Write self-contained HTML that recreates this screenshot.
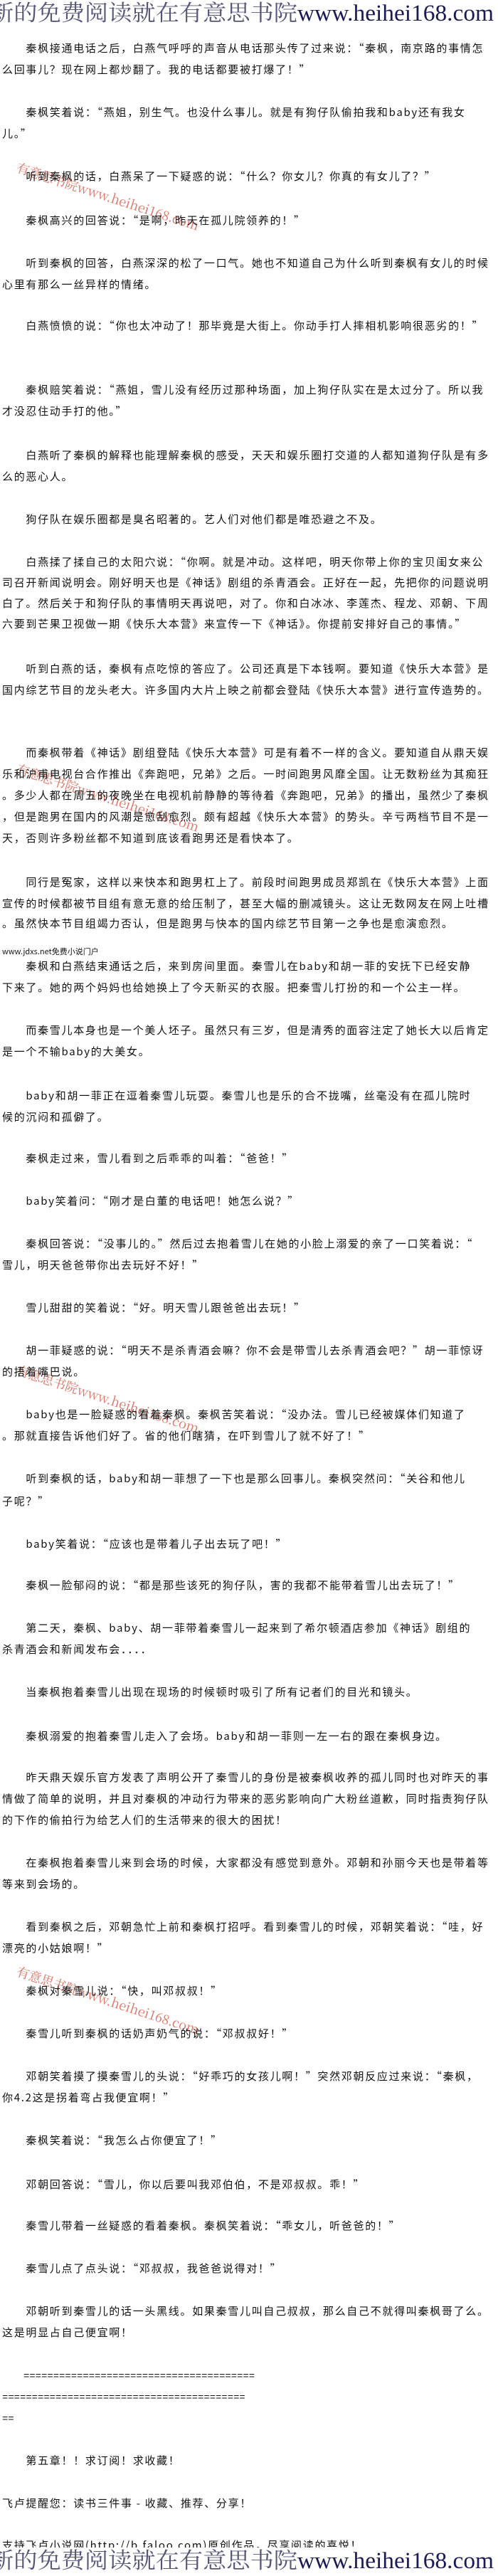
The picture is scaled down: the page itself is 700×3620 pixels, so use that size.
<!DOCTYPE html>
<html><head><meta charset="utf-8">
<style>
html,body{margin:0;padding:0;background:#fff;}
body{width:700px;height:3620px;position:relative;overflow:hidden;}
.l{position:absolute;left:3px;height:30px;line-height:30px;white-space:nowrap;
font-family:"Noto Sans CJK SC","Liberation Sans",sans-serif;font-size:15px;letter-spacing:1.7px;color:#111;}
.wm{position:absolute;left:28px;white-space:nowrap;font-family:"Noto Serif CJK SC","Liberation Serif",serif;
font-size:18px;color:rgba(210,70,50,0.75);transform-origin:0 0;transform:rotate(18deg);}
.s{font-size:11px;letter-spacing:0;}
</style></head><body>
<svg style="position:absolute;left:0;top:0" width="700" height="36">
<text x="-14" y="29" font-family="Noto Serif CJK SC, serif" font-size="31" fill="#55557a" textLength="432" lengthAdjust="spacingAndGlyphs">新的免费阅读就在有意思书院</text>
<text x="418" y="29" font-family="Liberation Serif, serif" font-size="33" fill="#1a1a55" textLength="276" lengthAdjust="spacingAndGlyphs">www.heihei168.com</text>
</svg>
<div class="wm" style="top:222px">有意思书院www.heihei168.com</div>
<div class="wm" style="top:1067px">有意思书院www.heihei168.com</div>
<div class="wm" style="top:1912px">有意思书院www.heihei168.com</div>
<div class="wm" style="top:2757px">有意思书院www.heihei168.com</div>

<div class="l" style="top:53px">　　秦枫接通电话之后，白燕气呼呼的声音从电话那头传了过来说：“秦枫，南京路的事情怎</div>
<div class="l" style="top:83px">么回事儿？现在网上都炒翻了。我的电话都要被打爆了！”</div>
<div class="l" style="top:143px">　　秦枫笑着说：“燕姐，别生气。也没什么事儿。就是有狗仔队偷拍我和baby还有我女</div>
<div class="l" style="top:173px">儿。”</div>
<div class="l" style="top:233px">　　听到秦枫的话，白燕呆了一下疑惑的说：“什么？你女儿？你真的有女儿了？”</div>
<div class="l" style="top:295px">　　秦枫高兴的回答说：“是啊，昨天在孤儿院领养的！”</div>
<div class="l" style="top:355px">　　听到秦枫的回答，白燕深深的松了一口气。她也不知道自己为什么听到秦枫有女儿的时候</div>
<div class="l" style="top:385px">心里有那么一丝异样的情绪。</div>
<div class="l" style="top:443px">　　白燕愤愤的说：“你也太冲动了！那毕竟是大街上。你动手打人摔相机影响很恶劣的！”</div>
<div class="l" style="top:533px">　　秦枫赔笑着说：“燕姐，雪儿没有经历过那种场面，加上狗仔队实在是太过分了。所以我</div>
<div class="l" style="top:563px">才没忍住动手打的他。”</div>
<div class="l" style="top:625px">　　白燕听了秦枫的解释也能理解秦枫的感受，天天和娱乐圈打交道的人都知道狗仔队是有多</div>
<div class="l" style="top:655px">么的恶心人。</div>
<div class="l" style="top:715px">　　狗仔队在娱乐圈都是臭名昭著的。艺人们对他们都是唯恐避之不及。</div>
<div class="l" style="top:775px">　　白燕揉了揉自己的太阳穴说：“你啊。就是冲动。这样吧，明天你带上你的宝贝闺女来公</div>
<div class="l" style="top:804px">司召开新闻说明会。刚好明天也是《神话》剧组的杀青酒会。正好在一起，先把你的问题说明</div>
<div class="l" style="top:833px">白了。然后关于和狗仔队的事情明天再说吧，对了。你和白冰冰、李莲杰、程龙、邓朝、下周</div>
<div class="l" style="top:862px">六要到芒果卫视做一期《快乐大本营》来宣传一下《神话》。你提前安排好自己的事情。”</div>
<div class="l" style="top:925px">　　听到白燕的话，秦枫有点吃惊的答应了。公司还真是下本钱啊。要知道《快乐大本营》是</div>
<div class="l" style="top:955px">国内综艺节目的龙头老大。许多国内大片上映之前都会登陆《快乐大本营》进行宣传造势的。</div>
<div class="l" style="top:1043px">　　而秦枫带着《神话》剧组登陆《快乐大本营》可是有着不一样的含义。要知道自从鼎天娱</div>
<div class="l" style="top:1073px">乐和沪甫电视台合作推出《奔跑吧，兄弟》之后。一时间跑男风靡全国。让无数粉丝为其痴狂</div>
<div class="l" style="top:1103px">。多少人都在周五的夜晚坐在电视机前静静的等待着《奔跑吧，兄弟》的播出，虽然少了秦枫</div>
<div class="l" style="top:1133px">，但是跑男在国内的风潮是愈刮愈烈。颇有超越《快乐大本营》的势头。辛亏两档节目不是一</div>
<div class="l" style="top:1163px">天，否则许多粉丝都不知道到底该看跑男还是看快本了。</div>
<div class="l" style="top:1225px">　　同行是冤家，这样以来快本和跑男杠上了。前段时间跑男成员郑凯在《快乐大本营》上面</div>
<div class="l" style="top:1255px">宣传的时候都被节目组有意无意的给压制了，甚至大幅的删减镜头。这让无数网友在网上吐槽</div>
<div class="l" style="top:1283px">。虽然快本节目组竭力否认，但是跑男与快本的国内综艺节目第一之争也是愈演愈烈。</div>
<div class="l s" style="top:1322px">www.jdxs.net免费小说门户</div>
<div class="l" style="top:1343px">　　秦枫和白燕结束通话之后，来到房间里面。秦雪儿在baby和胡一菲的安抚下已经安静</div>
<div class="l" style="top:1373px">下来了。她的两个妈妈也给她换上了今天新买的衣服。把秦雪儿打扮的和一个公主一样。</div>
<div class="l" style="top:1433px">　　而秦雪儿本身也是一个美人坯子。虽然只有三岁，但是清秀的面容注定了她长大以后肯定</div>
<div class="l" style="top:1463px">是一个不输baby的大美女。</div>
<div class="l" style="top:1525px">　　baby和胡一菲正在逗着秦雪儿玩耍。秦雪儿也是乐的合不拢嘴，丝毫没有在孤儿院时</div>
<div class="l" style="top:1555px">候的沉闷和孤僻了。</div>
<div class="l" style="top:1613px">　　秦枫走过来，雪儿看到之后乖乖的叫着：“爸爸！”</div>
<div class="l" style="top:1673px">　　baby笑着问：“刚才是白董的电话吧！她怎么说？”</div>
<div class="l" style="top:1733px">　　秦枫回答说：“没事儿的。”然后过去抱着雪儿在她的小脸上溺爱的亲了一口笑着说：“</div>
<div class="l" style="top:1763px">雪儿，明天爸爸带你出去玩好不好！”</div>
<div class="l" style="top:1823px">　　雪儿甜甜的笑着说：“好。明天雪儿跟爸爸出去玩！”</div>
<div class="l" style="top:1883px">　　胡一菲疑惑的说：“明天不是杀青酒会嘛？你不会是带雪儿去杀青酒会吧？”胡一菲惊讶</div>
<div class="l" style="top:1913px">的捂着嘴巴说。</div>
<div class="l" style="top:1973px">　　baby也是一脸疑惑的看着秦枫。秦枫苦笑着说：“没办法。雪儿已经被媒体们知道了</div>
<div class="l" style="top:2003px">。那就直接告诉他们好了。省的他们瞎猜，在吓到雪儿了就不好了！”</div>
<div class="l" style="top:2063px">　　听到秦枫的话，baby和胡一菲想了一下也是那么回事儿。秦枫突然问：“关谷和他儿</div>
<div class="l" style="top:2095px">子呢？”</div>
<div class="l" style="top:2155px">　　baby笑着说：“应该也是带着儿子出去玩了吧！”</div>
<div class="l" style="top:2213px">　　秦枫一脸郁闷的说：“都是那些该死的狗仔队，害的我都不能带着雪儿出去玩了！”</div>
<div class="l" style="top:2273px">　　第二天，秦枫、baby、胡一菲带着秦雪儿一起来到了希尔顿酒店参加《神话》剧组的</div>
<div class="l" style="top:2303px">杀青酒会和新闻发布会．．．．</div>
<div class="l" style="top:2363px">　　当秦枫抱着秦雪儿出现在现场的时候顿时吸引了所有记者们的目光和镜头。</div>
<div class="l" style="top:2425px">　　秦枫溺爱的抱着秦雪儿走入了会场。baby和胡一菲则一左一右的跟在秦枫身边。</div>
<div class="l" style="top:2483px">　　昨天鼎天娱乐官方发表了声明公开了秦雪儿的身份是被秦枫收养的孤儿同时也对昨天的事</div>
<div class="l" style="top:2513px">情做了简单的说明，并且对秦枫的冲动行为带来的恶劣影响向广大粉丝道歉，同时指责狗仔队</div>
<div class="l" style="top:2543px">的下作的偷拍行为给艺人们的生活带来的很大的困扰！</div>
<div class="l" style="top:2603px">　　在秦枫抱着秦雪儿来到会场的时候，大家都没有感觉到意外。邓朝和孙丽今天也是带着等</div>
<div class="l" style="top:2633px">等来到会场的。</div>
<div class="l" style="top:2693px">　　看到秦枫之后，邓朝急忙上前和秦枫打招呼。看到秦雪儿的时候，邓朝笑着说：“哇，好</div>
<div class="l" style="top:2723px">漂亮的小姑娘啊！”</div>
<div class="l" style="top:2783px">　　秦枫对秦雪儿说：“快，叫邓叔叔！”</div>
<div class="l" style="top:2843px">　　秦雪儿听到秦枫的话奶声奶气的说：“邓叔叔好！”</div>
<div class="l" style="top:2903px">　　邓朝笑着摸了摸秦雪儿的头说：“好乖巧的女孩儿啊！”突然邓朝反应过来说：“秦枫，</div>
<div class="l" style="top:2933px">你4.2这是拐着弯占我便宜啊！”</div>
<div class="l" style="top:2993px">　　秦枫笑着说：“我怎么占你便宜了！”</div>
<div class="l" style="top:3055px">　　邓朝回答说：“雪儿，你以后要叫我邓伯伯，不是邓叔叔。乖！”</div>
<div class="l" style="top:3113px">　　秦雪儿带着一丝疑惑的看着秦枫。秦枫笑着说：“乖女儿，听爸爸的！”</div>
<div class="l" style="top:3173px">　　秦雪儿点了点头说：“邓叔叔，我爸爸说得对！”</div>
<div class="l" style="top:3233px">　　邓朝听到秦雪儿的话一头黑线。如果秦雪儿叫自己叔叔，那么自己不就得叫秦枫哥了么。</div>
<div class="l" style="top:3263px">这是明显占自己便宜啊！</div>
<div class="l" style="top:3323px;letter-spacing:0">　　<span style="font-family:'Liberation Mono',monospace;font-size:13.9px">=======================================</span></div>
<div class="l" style="top:3353px;letter-spacing:0"><span style="font-family:'Liberation Mono',monospace;font-size:13.9px">=========================================</span></div>
<div class="l" style="top:3383px;letter-spacing:0"><span style="font-family:'Liberation Mono',monospace;font-size:13.9px">==</span></div>
<div class="l" style="top:3443px">　　第五章！！求订阅！求收藏！</div>
<div class="l" style="top:3503px">飞卢提醒您：读书三件事 - 收藏、推荐、分享！</div>
<div class="l" style="top:3562px">支持飞卢小说网(http://b.faloo.com)原创作品，尽享阅读的喜悦！</div>
<svg style="position:absolute;left:0;top:3580px" width="700" height="40">
<rect x="0" y="0" width="700" height="40" fill="#fff"/>
<text x="-14" y="29" font-family="Noto Serif CJK SC, serif" font-size="31" fill="#55557a" textLength="432" lengthAdjust="spacingAndGlyphs">新的免费阅读就在有意思书院</text>
<text x="418" y="29" font-family="Liberation Serif, serif" font-size="33" fill="#1a1a55" textLength="276" lengthAdjust="spacingAndGlyphs">www.heihei168.com</text>
</svg>
</body></html>
